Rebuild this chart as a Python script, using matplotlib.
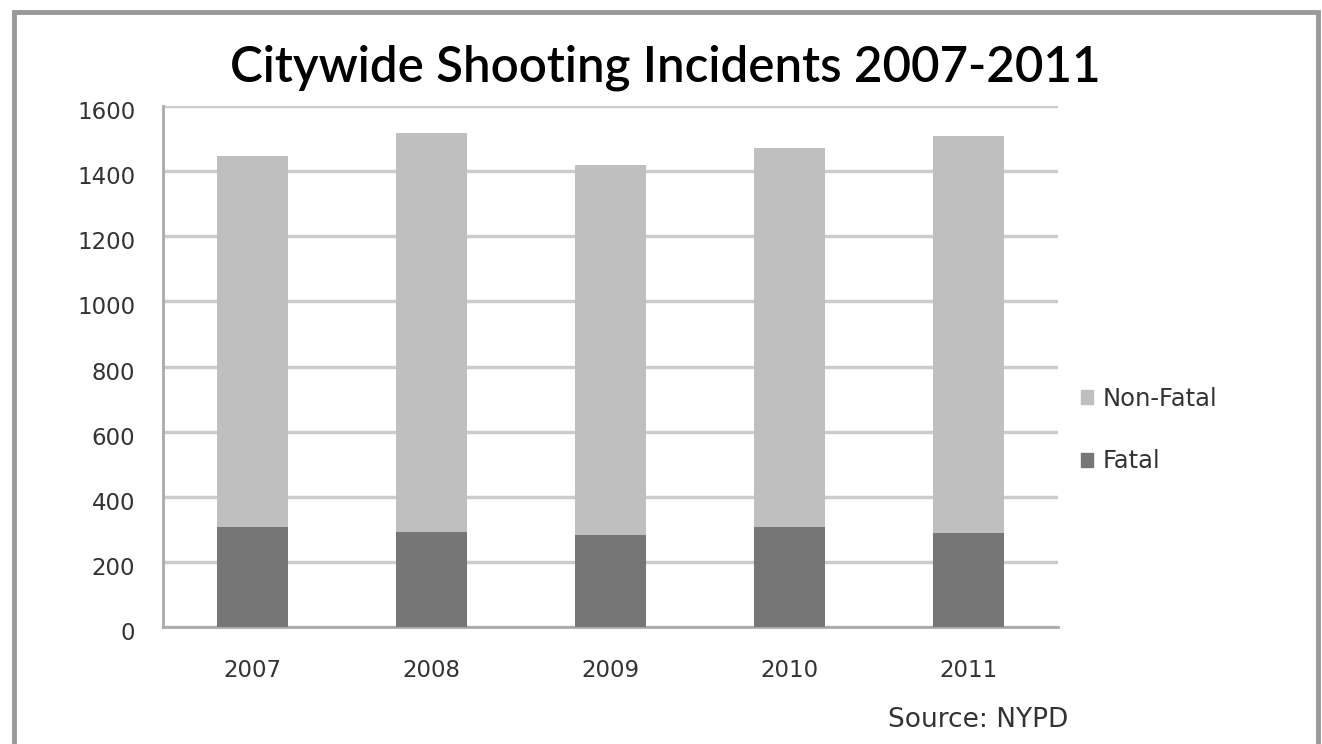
import matplotlib.pyplot as plt
from matplotlib.patches import Rectangle, Patch
from matplotlib.transforms import ScaledTranslation

# Dados
anos = ['2007', '2008', '2009', '2010', '2011']
fatal = [307, 291, 281, 308, 290]
nao_fatal = [1138, 1227, 1137, 1164, 1219]

cor_fatal = '#767676'
cor_nao_fatal = '#bfbfbf'

plt.rcParams['font.family'] = ['DejaVu Sans']

fig = plt.figure(figsize=(13.22, 7.44), dpi=100)
W, H = 1322, 744
ax = fig.add_axes([163 / W, 1 - 627 / H, (1058 - 163) / W, (627 - 106) / H])

x = range(len(anos))
ax.bar(x, fatal, width=0.4, color=cor_fatal, zorder=3)
ax.bar(x, nao_fatal, width=0.4, bottom=fatal, color=cor_nao_fatal, zorder=3)

ax.set_xlim(-0.5, len(anos) - 0.5)
ax.set_ylim(0, 1600)
ax.set_yticks(range(0, 1601, 200))
ax.set_xticks(list(x))
ax.set_xticklabels(anos)
ax.grid(axis='y', color='#cccccc', linewidth=2.5, zorder=0)
ax.tick_params(length=0, labelsize=16.5, colors='#333333')
ax.tick_params(axis='x', pad=23)
ax.tick_params(axis='y', pad=20)
# rótulos do eixo y ficam um pouco abaixo das linhas de grade
desloc = ScaledTranslation(0, -4 / 100, fig.dpi_scale_trans)
for lab in ax.get_yticklabels():
    lab.set_transform(lab.get_transform() + desloc)
for s in ['top', 'right']:
    ax.spines[s].set_visible(False)
for s in ['left', 'bottom']:
    ax.spines[s].set_color('#aaaaaa')
    ax.spines[s].set_linewidth(2)

fig.text(665 / W, 1 - 68 / H, 'Citywide Shooting Incidents 2007-2011',
         ha='center', va='center', fontsize=35.5, family='Lato',
         fontweight='semibold', color='#000000')

handles = [Patch(color=cor_nao_fatal), Patch(color=cor_fatal)]
fig.legend(handles, ['Non-Fatal', 'Fatal'], loc='center left',
           bbox_to_anchor=(1059 / W, 1 - 430 / H), frameon=False,
           fontsize=17.5, handlelength=0.5, handleheight=0.5, handletextpad=0.4,
           labelspacing=1.6, labelcolor='#333333')

fig.text(1068 / W, 1 - 720 / H, 'Source: NYPD', ha='right', va='center',
         fontsize=19, color='#333333')

# Moldura externa
fig.patches.append(Rectangle((14 / W, -0.05), (1318 - 14) / W, 1.05 - 12 / H,
                             transform=fig.transFigure, fill=False,
                             edgecolor='#999999', linewidth=3.5))

fig.savefig('out.png', dpi=100)
